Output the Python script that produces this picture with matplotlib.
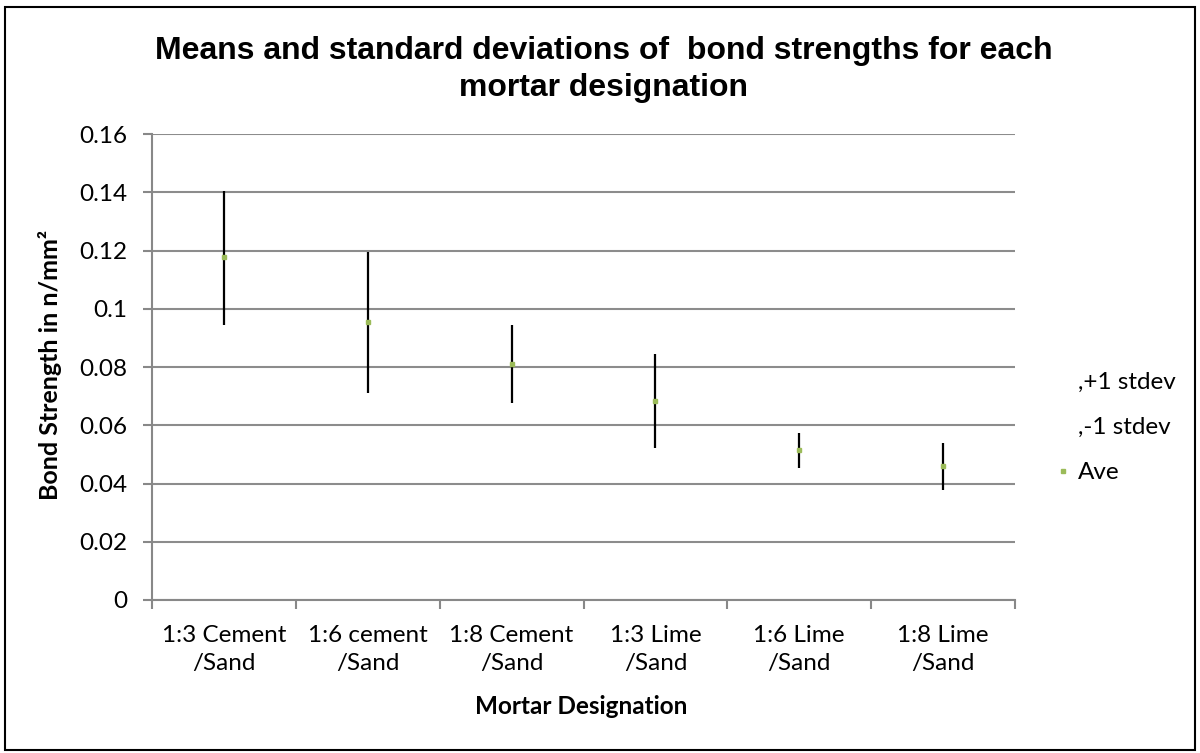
import numpy as np
import matplotlib.pyplot as plt
from matplotlib.patches import Rectangle
from matplotlib.lines import Line2D

# data
categories = ["1:3 Cement\n/Sand", "1:6 cement\n/Sand", "1:8 Cement\n/Sand",
              "1:3 Lime\n/Sand", "1:6 Lime\n/Sand", "1:8 Lime\n/Sand"]
plus_1sd = [0.1405, 0.1195, 0.0944, 0.0843, 0.0574, 0.0538]
minus_1sd = [0.0944, 0.0710, 0.0677, 0.0523, 0.0454, 0.0378]
ave = [0.1177, 0.0953, 0.0811, 0.0684, 0.0515, 0.0460]
yticks = [0, 0.02, 0.04, 0.06, 0.08, 0.1, 0.12, 0.14, 0.16]
ytick_labels = ['0', '0.02', '0.04', '0.06', '0.08', '0.1', '0.12', '0.14', '0.16']

plt.rcParams['font.family'] = ['Lato', 'DejaVu Sans']

fig = plt.figure(figsize=(12, 7.53), dpi=100)
ax = fig.add_axes([0.1267, 0.2032, 0.7191, 0.6188])

x = np.arange(len(categories))
ax.vlines(x, minus_1sd, plus_1sd, color='black', lw=1.6, zorder=3)
ax.plot(x, ave, ls='none', marker='s', ms=2.5, color='#9BBB59', zorder=4)

ax.set_xlim(-0.5, len(categories) - 0.5)
ax.set_ylim(0, 0.16)
ax.set_yticks(yticks)
ax.set_yticklabels(ytick_labels)
ax.set_xticks(np.arange(-0.5, len(categories), 1.0))
ax.set_xticklabels([])
ax.set_xticks(x, minor=True)
ax.set_xticklabels(categories, minor=True, fontsize=17.5, linespacing=1.4)
ax.tick_params(axis='x', which='minor', length=0, pad=18)
ax.tick_params(axis='x', which='major', length=6.5, color='#888888', width=1.5)
ax.tick_params(axis='y', length=6.5, color='#888888', width=1.5, labelsize=17.5, pad=11)

ax.grid(axis='y', color='#8c8c8c', lw=1.5)
ax.set_axisbelow(True)
for s in ['top', 'right']:
    ax.spines[s].set_visible(False)
for s in ['left', 'bottom']:
    ax.spines[s].set_color('#888888')
    ax.spines[s].set_linewidth(1.5)

fig.text(50 / 1200, 1 - 365 / 753, 'Bond Strength in n/mm²', rotation=90,
         ha='center', va='center', fontsize=18, fontweight='bold')
fig.text(581 / 1200, 1 - 706 / 753, 'Mortar Designation',
         ha='center', va='center', fontsize=17.5, fontweight='bold')

fig.text(0.503, 1 - 36 / 753, 'Means and standard deviations of  bond strengths for each\nmortar designation',
         ha='center', va='top', fontsize=23, fontweight='bold',
         family='Liberation Sans', linespacing=1.3)

handles = [Line2D([], [], ls='none'),
           Line2D([], [], ls='none'),
           Line2D([], [], ls='none', marker='s', ms=2.5, color='#9BBB59')]
fig.legend(handles, [',+1 stdev', ',-1 stdev', 'Ave'], loc='center left',
           bbox_to_anchor=(0.88, 1 - 427.5 / 753), frameon=False, fontsize=17.5,
           handlelength=0.6, handletextpad=0.3, labelspacing=1.0,
           borderpad=0, borderaxespad=0)

fig.add_artist(Rectangle((5 / 1200, 3 / 753), 1190 / 1200, 743 / 753, transform=fig.transFigure,
                         fill=False, edgecolor='black', lw=1.5))

fig.savefig('out.png', dpi=100)
